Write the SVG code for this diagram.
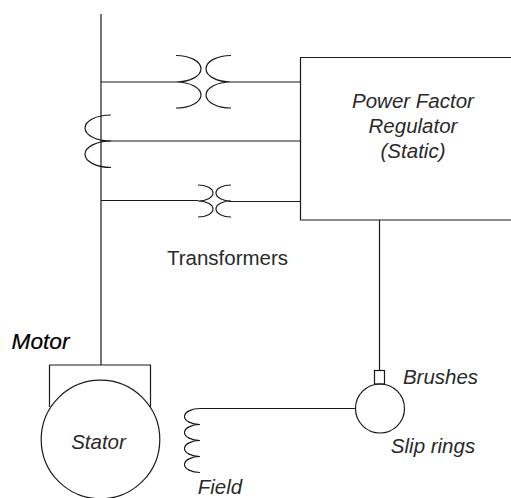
<svg xmlns="http://www.w3.org/2000/svg" width="511" height="498" viewBox="0 0 511 498">
<style>
.l{fill:none;stroke:#1a1a1a;stroke-width:1.2}
.t{font-family:"Liberation Sans",Arial,sans-serif;font-size:20.500px;fill:#2a2a2a;text-anchor:middle}
.i{font-style:italic}
</style>
<rect width="511" height="498" fill="#fff"/>
<g id="connectors">
<path class="l" d="M101 14V365"/>
<path class="l" d="M101 82H176M231 82H300"/>
<path class="l" d="M101 141H300"/>
<path class="l" d="M101 200.500H198M229 201.500H300"/>
<path class="l" d="M379.500 220V370.500"/>
<path class="l" d="M200 408.500H355.500"/>
</g>
<g id="transformer-top">
<path class="l" d="M176 55.500A25 13.250 0 0 1 176 82A25 13 0 0 1 176 108"/>
<path class="l" d="M231 55.500A25 13.250 0 0 0 231 82A25 13 0 0 0 231 108"/>
</g>
<g id="transformer-mid">
<path class="l" d="M111 115A26 13 0 0 0 111 141A26 13.250 0 0 0 111 167.500"/>
</g>
<g id="transformer-bottom">
<path class="l" d="M198 185A15 8 0 0 1 198 201A15 8 0 0 1 198 217"/>
<path class="l" d="M231 185A15 8 0 0 0 231 201A15 8 0 0 0 231 217"/>
</g>
<g id="regulator">
<path class="l" d="M511 57.500H300.500V220H511"/>
<text class="t i" x="413" y="108">Power Factor</text>
<text class="t i" x="413" y="133">Regulator</text>
<text class="t i" x="413" y="158">(Static)</text>
</g>
<g id="transformers-label"><text class="t" x="227.500" y="265" textLength="121">Transformers</text></g>
<g id="motor">
<path class="l" d="M49.500 407V365H150.500V407"/>
<circle class="l" cx="100.500" cy="439.500" r="59.300" fill="#fff"/>
<text class="t i" x="98.500" y="449">Stator</text>
<text x="40.500" y="349" class="t i" style="fill:#000;stroke:#000;stroke-width:.2;font-size:21.500px" textLength="58" lengthAdjust="spacingAndGlyphs">Motor</text>
</g>
<g id="field">
<path class="l" d="M200 408.500A15.500 8 0 0 0 200 424.500A15.500 8 0 0 0 200 440.500A15.500 8 0 0 0 200 456.500A15.500 8 0 0 0 200 472.500"/>
<text class="t i" x="220" y="493.500">Field</text>
</g>
<g id="slip-rings">
<rect class="l" x="374.500" y="370.500" width="10" height="13.500"/>
<circle class="l" cx="380" cy="408.500" r="24.500"/>
<text class="t i" x="440.500" y="383.500">Brushes</text>
<text class="t i" x="433" y="452.500">Slip rings</text>
</g>
</svg>
